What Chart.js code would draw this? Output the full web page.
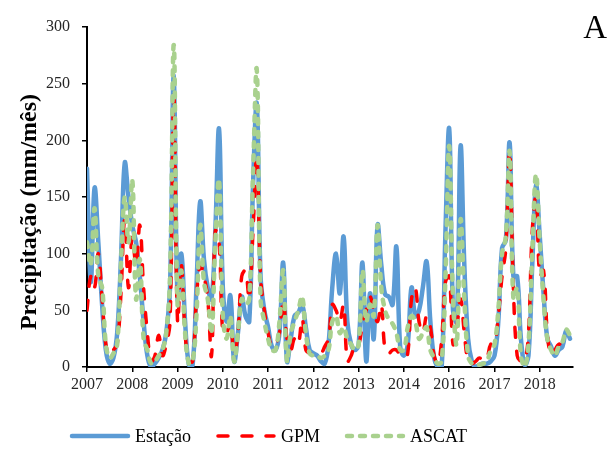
<!DOCTYPE html>
<html>
<head>
<meta charset="utf-8">
<script src="https://cdn.jsdelivr.net/npm/chart.js@4.4.1/dist/chart.umd.min.js"></script>
<style>
  html, body { margin: 0; padding: 0; background: #fff; }
  canvas { display: block; }
</style>
</head>
<body>
<canvas id="rainChart" width="612" height="450"></canvas>
<script>
// monthly rainfall, Jan 2007 onwards (index = month number)
const yearTicks = [0, 12, 24, 36, 48, 60, 72, 84, 96, 108, 120];
const yearLabels = ["2007", "2008", "2009", "2010", "2011", "2012", "2013", "2014", "2016", "2017", "2018"];
const yTicks = [0, 50, 100, 150, 200, 250, 300];

const estacao = [
  175, 75, 158, 110, 55, 15, 3, 8, 30, 95,
  180, 150, 125, 110, 80, 40, 10, 0, 3, 8,
  15, 30, 70, 257, 60, 100, 40, 2, 2, 70,
  146, 95, 70, 60, 120, 210, 70, 40, 63, 5,
  30, 62, 45, 40, 160, 232, 80, 50, 35, 18,
  15, 30, 92, 5, 25, 45, 48, 55, 35, 15,
  12, 10, 5, 3, 20, 70, 100, 65, 115, 40,
  20, 15, 20, 92, 5, 65, 25, 125, 90, 64,
  62, 55, 106, 18, 10, 20, 70, 45, 50, 70,
  93, 40, 8, 0, 0, 120, 210, 50, 40, 195,
  90, 25, 5, 0, 2, 3, 3, 5, 10, 40,
  105, 112, 198, 80, 80, 25, 2, 10, 90, 160,
  115, 65, 25, 18, 10, 15, 18, 32, 25
];
const gpm = [
  50, 80, 70, 100, 60, 20, 10, 15, 20, 65,
  130, 70, 115, 90, 125, 70, 30, 5, 10, 28,
  10, 20, 40, 240, 40, 90, 30, 5, 5, 60,
  90, 80, 60, 10, 120, 110, 30, 30, 40, 10,
  30, 80, 85, 60, 120, 185, 80, 50, 30, 18,
  20, 30, 60, 25, 15, 25, 20, 43, 15, 12,
  12, 12, 12, 18, 25, 55, 50, 40, 55, 5,
  10, 20, 20, 38, 50, 62, 50, 40, 55, 15,
  12, 15, 15, 10, 8, 12, 60, 70, 40, 30,
  45, 35, 10, 3, 25, 75, 80, 20, 35, 60,
  30, 5, 3, 5, 8, 5, 8, 20, 20, 45,
  80, 105, 190, 70, 10, 5, 5, 30, 120, 150,
  80, 85, 30, 10, 15, 20, 20, 25, null
];
const ascat = [
  110, 90, 140, 80, 70, 20, 8, 12, 20, 90,
  150, 110, 165, 60, 95, 25, 15, 3, 5, 10,
  15, 30, 80, 284, 55, 85, 30, 3, 5, 45,
  125, 75, 60, 30, 110, 165, 45, 25, 45, 5,
  30, 60, 55, 60, 170, 262, 60, 40, 25, 15,
  15, 40, 85, 5, 30, 40, 50, 62, 30, 12,
  10, 10, 8, 10, 15, 40, 45, 30, 35, 25,
  20, 15, 20, 85, 40, 55, 45, 125, 70, 50,
  42, 38, 30, 15, 15, 35, 45, 40, 25, 30,
  35, 15, 8, 3, 5, 80, 195, 60, 20, 130,
  60, 10, 3, 2, 2, 3, 5, 15, 20, 50,
  100, 115, 190, 60, 70, 10, 0, 20, 100, 170,
  110, 60, 25, 15, 10, 18, 22, 33, 28
];

const serif = '"Liberation Serif", "Times New Roman", serif';
const toPoints = arr => arr.map((v, i) => ({ x: i, y: v }));

// axis title (sits lower than centre in the original), bottom legend
// (the built-in one drops the dash pattern for line samples) and the "A" letter
const extras = {
  id: 'extras',
  afterDraw(chart) {
    const ctx = chart.ctx;
    ctx.save();

    ctx.save();
    ctx.translate(29.5, 212);
    ctx.rotate(-Math.PI / 2);
    ctx.font = 'bold 24px ' + serif;
    ctx.fillStyle = '#000';
    ctx.textAlign = 'center';
    ctx.textBaseline = 'middle';
    ctx.fillText('Precipitação (mm/mês)', 0, 0);
    ctx.restore();

    ctx.font = '18px ' + serif;
    ctx.textBaseline = 'middle';
    ctx.textAlign = 'left';
    let x = 72;
    const y = 436;
    chart.data.datasets.forEach(ds => {
      ctx.beginPath();
      ctx.setLineDash(ds.borderDash || []);
      ctx.lineCap = 'round';
      ctx.lineWidth = ds.borderWidth;
      ctx.strokeStyle = ds.borderColor;
      ctx.moveTo(x, y);
      ctx.lineTo(x + 56, y);
      ctx.stroke();
      ctx.setLineDash([]);
      ctx.fillStyle = '#000';
      ctx.fillText(ds.label, x + 63, y + 1);
      x += 63 + ctx.measureText(ds.label).width + 27;
    });

    ctx.font = '33px ' + serif;
    ctx.textAlign = 'right';
    ctx.textBaseline = 'alphabetic';
    ctx.fillText('A', 607, 38);
    ctx.restore();
  }
};

new Chart(document.getElementById('rainChart'), {
  type: 'line',
  data: {
    datasets: [
      {
        label: 'Estação',
        data: toPoints(estacao),
        borderColor: '#5B9BD5',
        backgroundColor: '#5B9BD5',
        borderWidth: 4.5,
        borderCapStyle: 'round',
        order: 2
      },
      {
        label: 'GPM',
        data: toPoints(gpm),
        borderColor: '#FF0000',
        backgroundColor: '#FF0000',
        borderWidth: 3.5,
        borderDash: [10, 14],
        borderCapStyle: 'round',
        order: 1
      },
      {
        label: 'ASCAT',
        data: toPoints(ascat),
        borderColor: '#A9D18E',
        backgroundColor: '#A9D18E',
        borderWidth: 4.5,
        borderDash: [5, 8],
        borderCapStyle: 'round',
        order: 0
      }
    ]
  },
  options: {
    responsive: false,
    animation: false,
    layout: { padding: { left: 0, right: 39, top: 27, bottom: 46.5 } },
    elements: {
      point: { radius: 0 },
      line: { tension: 0.4, borderJoinStyle: 'round' }
    },
    plugins: {
      tooltip: { enabled: false },
      legend: { display: false }
    },
    scales: {
      x: {
        type: 'linear',
        min: 0,
        max: 128.8,
        afterBuildTicks: s => { s.ticks = yearTicks.map(v => ({ value: v })); },
        afterFit: s => { s.height = 36.5; },
        ticks: {
          autoSkip: false,
          maxRotation: 0,
          padding: 3,
          color: '#262626',
          font: { family: serif, size: 16 },
          callback: (v, i) => yearLabels[i]
        },
        grid: { drawOnChartArea: false, drawTicks: true, tickLength: 5, color: '#000', lineWidth: 1.5 },
        border: { color: '#000', width: 2 }
      },
      y: {
        min: 0,
        max: 300,
        afterBuildTicks: s => { s.ticks = yTicks.map(v => ({ value: v })); },
        afterFit: s => { s.width = 87; },
        ticks: {
          padding: 12,
          color: '#262626',
          font: { family: serif, size: 16 }
        },
        grid: { drawOnChartArea: false, drawTicks: true, tickLength: 5, color: '#000', lineWidth: 1.5 },
        border: { color: '#000', width: 2 }
      }
    }
  },
  plugins: [extras]
});
</script>
</body>
</html>
